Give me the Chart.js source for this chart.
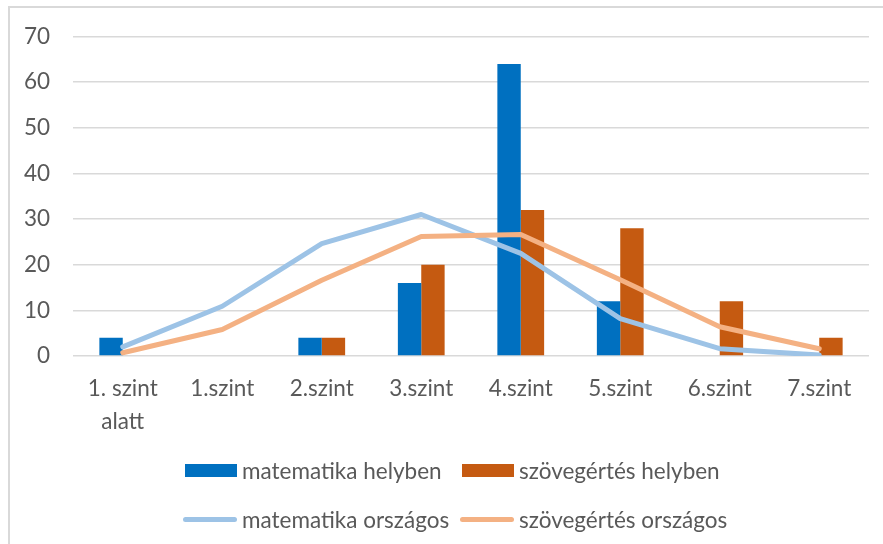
<!DOCTYPE html>
<html>
<head>
<meta charset="utf-8">
<script src="https://cdn.jsdelivr.net/npm/chart.js@4/dist/chart.umd.min.js"></script>
<style>
  html, body { margin: 0; padding: 0; background: #fff; overflow: hidden; }
  #wrap { position: relative; width: 883px; height: 544px; }
  #frame { position: absolute; left: 8px; top: 6px; width: 900px; height: 600px; border-left: 2px solid #d9d9d9; border-top: 2px solid #d9d9d9; box-sizing: border-box; }
  canvas { position: absolute; left: 0; top: 0; }
  .item { position: absolute; height: 30px; display: flex; align-items: center; font-family: Lato, "Liberation Sans", sans-serif; font-size: 22.5px; color: #595959; white-space: nowrap; }
  .box { width: 52px; height: 13px; margin-right: 5px; }
  .ln { width: 54px; height: 5px; border-radius: 3px; margin-right: 5px; }
</style>
</head>
<body>
<div id="wrap">
  <div id="frame"></div>
  <canvas id="c" width="883" height="544"></canvas>
  <div id="legend"></div>
</div>
<script>
const categories = [["1. szint", "alatt"], "1.szint", "2.szint", "3.szint", "4.szint", "5.szint", "6.szint", "7.szint"];
const mathLocal = [4, 0, 4, 16, 64, 12, 0, 0];
const readLocal = [0, 0, 4, 20, 32, 28, 12, 4];
const mathNational = [2.0, 10.9, 24.6, 31.0, 22.5, 8.2, 1.6, 0.2];
const readNational = [0.7, 5.8, 16.6, 26.2, 26.6, 16.7, 6.4, 1.6];
const seriesNames = ["matematika helyben", "szövegértés helyben", "matematika országos", "szövegértés országos"];
const yTicks = { min: 0, max: 70, step: 10 };

const colors = ["#0070C0", "#C55A11", "#9DC3E6", "#F4B183"];
const FONT = "Lato";
const TXT = "#595959";

new Chart(document.getElementById("c"), {
  data: {
    labels: categories,
    datasets: [
      { type: "line", label: seriesNames[3], data: readNational, borderColor: colors[3], backgroundColor: colors[3], borderWidth: 5, pointRadius: 0, tension: 0, borderCapStyle: "round", borderJoinStyle: "round", order: 0 },
      { type: "line", label: seriesNames[2], data: mathNational, borderColor: colors[2], backgroundColor: colors[2], borderWidth: 5, pointRadius: 0, tension: 0, borderCapStyle: "round", borderJoinStyle: "round", order: 1 },
      { type: "bar", label: seriesNames[0], data: mathLocal, backgroundColor: colors[0], borderWidth: 0, categoryPercentage: 0.47, barPercentage: 1, order: 2 },
      { type: "bar", label: seriesNames[1], data: readLocal, backgroundColor: colors[1], borderWidth: 0, categoryPercentage: 0.47, barPercentage: 1, order: 3 }
    ]
  },
  options: {
    responsive: false,
    animation: false,
    devicePixelRatio: 1,
    layout: { padding: { left: 0, right: 14, top: 35, bottom: 0 } },
    plugins: { legend: { display: false }, tooltip: { enabled: false }, title: { display: false } },
    scales: {
      x: {
        grid: { display: false },
        border: { display: false },
        ticks: { color: TXT, font: { family: FONT, size: 22.5, lineHeight: 1.43 }, padding: 9, maxRotation: 0, autoSkip: false },
        afterFit: (s) => { s.height = 188; }
      },
      y: {
        min: yTicks.min, max: yTicks.max,
        grid: { color: "#d9d9d9", lineWidth: 1.5, drawTicks: false },
        border: { display: false },
        ticks: { stepSize: yTicks.step, color: TXT, font: { family: FONT, size: 22.5 }, padding: 23 },
        afterFit: (s) => { s.width = 73; }
      }
    }
  }
});

// HTML legend (two rows, two columns)
const legendItems = [
  { name: seriesNames[0], color: colors[0], kind: "box", left: 185, top: 470 },
  { name: seriesNames[1], color: colors[1], kind: "box", left: 462, top: 470 },
  { name: seriesNames[2], color: colors[2], kind: "ln", left: 183, top: 519 },
  { name: seriesNames[3], color: colors[3], kind: "ln", left: 460, top: 519 }
];
const lg = document.getElementById("legend");
legendItems.forEach(it => {
  const d = document.createElement("div");
  d.className = "item";
  d.style.left = it.left + "px";
  d.style.top = (it.top - 15) + "px";
  const sw = document.createElement("span");
  sw.className = it.kind;
  sw.style.background = it.color;
  const t = document.createElement("span");
  t.textContent = it.name;
  d.appendChild(sw);
  d.appendChild(t);
  lg.appendChild(d);
});
</script>
</body>
</html>
